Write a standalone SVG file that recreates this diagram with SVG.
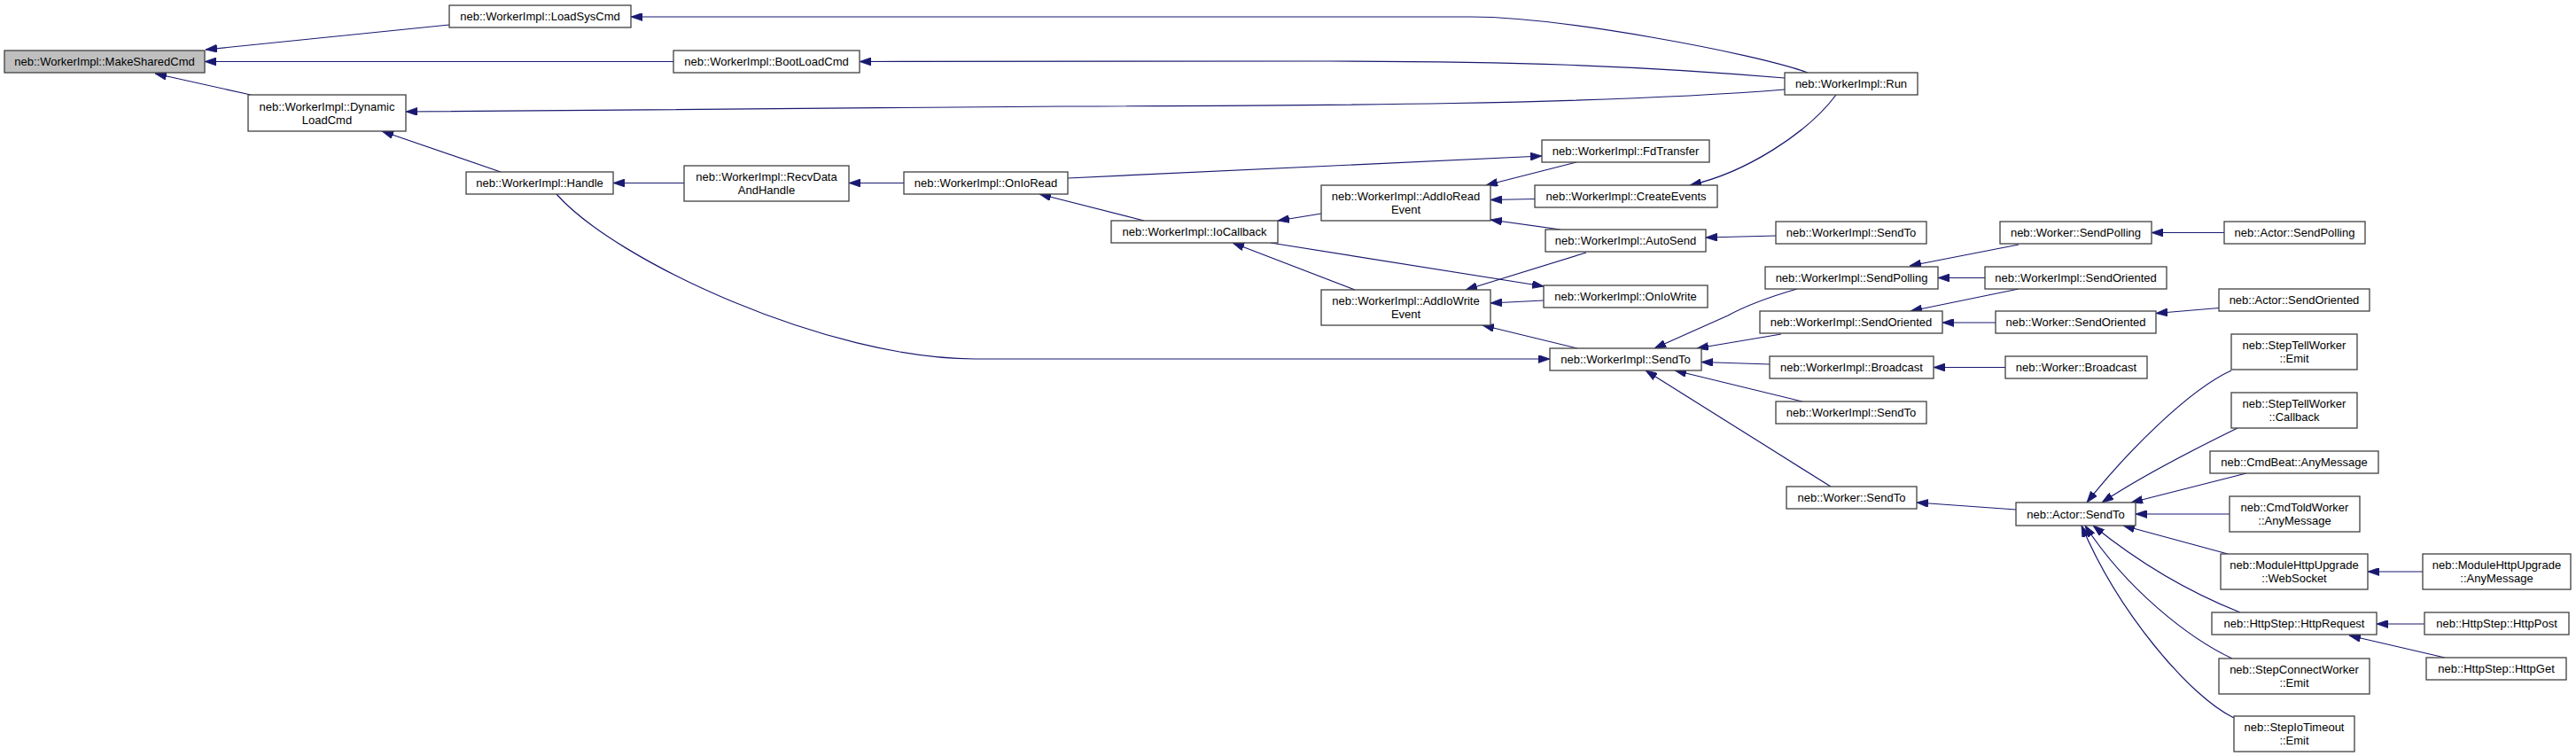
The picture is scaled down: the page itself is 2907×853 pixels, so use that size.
<svg xmlns="http://www.w3.org/2000/svg" width="2907" height="853" viewBox="0 0 2907 853">
<style>
.n rect{fill:#fff;stroke:#404040;stroke-width:1.3}
.n.g rect{fill:#bfbfbf}
.n text{font-family:"Liberation Sans",Arial,sans-serif;font-size:13px;fill:#000;text-anchor:middle}
.e path{fill:none;stroke:#191970;stroke-width:1.2;marker-end:url(#a)}
</style>
<defs>
<marker id="a" viewBox="0 0 13 9" refX="13" refY="4.5" markerWidth="13" markerHeight="9" markerUnits="userSpaceOnUse" orient="auto">
<path d="M0,0 L13,4.5 L0,9 z" fill="#191970" stroke="#191970" stroke-width="0.8"/>
</marker>
</defs>
<rect width="2907" height="853" fill="#fff"/>
<g id="edges" class="e">
<path d="M507,28 L232,56"/>
<path d="M760,69.5 L231,69.5"/>
<path d="M283,107 L175,83"/>
<path d="M2040,82 C1980,60 1760,19 1660,19 L712,19"/>
<path d="M2014,88 C1850,74 1700,69 1500,69 L970,69.5"/>
<path d="M2014,101 C1800,118 1500,119 1200,120 L458,126"/>
<path d="M565,194 L431,148"/>
<path d="M772,206.5 L692,206.5"/>
<path d="M1020,206.5 L958,206.5"/>
<path d="M628,219 C695,295 935,405 1100,405 L1749,405"/>
<path d="M1205,201 L1740,176"/>
<path d="M1779,183 L1677,209"/>
<path d="M1732,224.5 L1682,225.5"/>
<path d="M2072,107 C2040,150 1970,195 1907,209"/>
<path d="M1291,249 L1173,219"/>
<path d="M1491,241 L1442,249"/>
<path d="M1761,259 L1682,248"/>
<path d="M2004,266 L1925,268"/>
<path d="M1434,274 L1742,323"/>
<path d="M1529,327 L1391,274"/>
<path d="M1790,285 L1654,327"/>
<path d="M1742,339 L1682,342"/>
<path d="M1780,393 L1673,367"/>
<path d="M2028,326 C1990,337 1970,345 1950,356 L1867,393"/>
<path d="M2010,377 L1915,393"/>
<path d="M1997,411 L1920,408.5"/>
<path d="M2034,453 L1890,418"/>
<path d="M2066,549 L1857,418"/>
<path d="M2278,276 L2155,300"/>
<path d="M2240,313.5 L2187,313.5"/>
<path d="M2510,262.5 L2428,262.5"/>
<path d="M2252,364 L2192,364"/>
<path d="M2278,326 L2156,351"/>
<path d="M2504,347.5 L2433,353.5"/>
<path d="M2263,414.5 L2182,414.5"/>
<path d="M2275,575 L2163,567"/>
<path d="M2518,418 C2470,440 2400,510 2355,567"/>
<path d="M2525,483 C2480,505 2420,535 2372,567"/>
<path d="M2535,534 L2405,567"/>
<path d="M2516,580 L2410,580"/>
<path d="M2514,625 L2396,593"/>
<path d="M2528,691 C2480,672 2420,640 2362,593"/>
<path d="M2519,743 C2470,720 2400,665 2353,593"/>
<path d="M2521,810 C2470,785 2390,690 2349,593"/>
<path d="M2734,645 L2672,645"/>
<path d="M2736,704 L2682,704"/>
<path d="M2759,742 L2651,717"/>
</g>
<g id="n1" class="n g"><rect x="5" y="57" width="226" height="25"/><text x="118" y="74">neb::WorkerImpl::MakeSharedCmd</text></g>
<g id="n2" class="n"><rect x="507" y="6" width="205" height="25"/><text x="609.5" y="23">neb::WorkerImpl::LoadSysCmd</text></g>
<g id="n3" class="n"><rect x="760" y="57" width="210" height="25"/><text x="865" y="74">neb::WorkerImpl::BootLoadCmd</text></g>
<g id="n4" class="n"><rect x="280" y="107" width="178" height="41"/><text x="369" y="125">neb::WorkerImpl::Dynamic</text><text x="369" y="140">LoadCmd</text></g>
<g id="n5" class="n"><rect x="526" y="194" width="166" height="25"/><text x="609" y="211">neb::WorkerImpl::Handle</text></g>
<g id="n6" class="n"><rect x="772" y="187" width="186" height="40"/><text x="865" y="204">neb::WorkerImpl::RecvData</text><text x="865" y="219">AndHandle</text></g>
<g id="n7" class="n"><rect x="1020" y="194" width="185" height="25"/><text x="1112.5" y="211">neb::WorkerImpl::OnIoRead</text></g>
<g id="n8" class="n"><rect x="2014" y="82" width="150" height="25"/><text x="2089" y="99">neb::WorkerImpl::Run</text></g>
<g id="n9" class="n"><rect x="1740" y="158" width="189" height="25"/><text x="1834.5" y="175">neb::WorkerImpl::FdTransfer</text></g>
<g id="n10" class="n"><rect x="1491" y="209" width="191" height="40"/><text x="1586.5" y="226">neb::WorkerImpl::AddIoRead</text><text x="1586.5" y="241">Event</text></g>
<g id="n11" class="n"><rect x="1732" y="209" width="206" height="25"/><text x="1835" y="226">neb::WorkerImpl::CreateEvents</text></g>
<g id="n12" class="n"><rect x="1254" y="249" width="188" height="25"/><text x="1348" y="266">neb::WorkerImpl::IoCallback</text></g>
<g id="n13" class="n"><rect x="1744" y="259" width="181" height="25"/><text x="1834.5" y="276">neb::WorkerImpl::AutoSend</text></g>
<g id="n14" class="n"><rect x="2004" y="250" width="170" height="25"/><text x="2089" y="267">neb::WorkerImpl::SendTo</text></g>
<g id="n15" class="n"><rect x="2257" y="250" width="171" height="25"/><text x="2342.5" y="267">neb::Worker::SendPolling</text></g>
<g id="n16" class="n"><rect x="2510" y="250" width="159" height="25"/><text x="2589.5" y="267">neb::Actor::SendPolling</text></g>
<g id="n17" class="n"><rect x="1992" y="301" width="195" height="25"/><text x="2089.5" y="318">neb::WorkerImpl::SendPolling</text></g>
<g id="n18" class="n"><rect x="2240" y="301" width="205" height="25"/><text x="2342.5" y="318">neb::WorkerImpl::SendOriented</text></g>
<g id="n19" class="n"><rect x="1742" y="322" width="185" height="25"/><text x="1834.5" y="339">neb::WorkerImpl::OnIoWrite</text></g>
<g id="n20" class="n"><rect x="1491" y="327" width="191" height="40"/><text x="1586.5" y="344">neb::WorkerImpl::AddIoWrite</text><text x="1586.5" y="359">Event</text></g>
<g id="n21" class="n"><rect x="2504" y="326" width="170" height="25"/><text x="2589" y="343">neb::Actor::SendOriented</text></g>
<g id="n22" class="n"><rect x="1986" y="351" width="206" height="25"/><text x="2089" y="368">neb::WorkerImpl::SendOriented</text></g>
<g id="n23" class="n"><rect x="2252" y="351" width="181" height="25"/><text x="2342.5" y="368">neb::Worker::SendOriented</text></g>
<g id="n24" class="n"><rect x="2518" y="377" width="142" height="40"/><text x="2589" y="394">neb::StepTellWorker</text><text x="2589" y="409">::Emit</text></g>
<g id="n25" class="n"><rect x="1749" y="393" width="171" height="25"/><text x="1834.5" y="410">neb::WorkerImpl::SendTo</text></g>
<g id="n26" class="n"><rect x="1997" y="402" width="185" height="25"/><text x="2089.5" y="419">neb::WorkerImpl::Broadcast</text></g>
<g id="n27" class="n"><rect x="2263" y="402" width="160" height="25"/><text x="2343" y="419">neb::Worker::Broadcast</text></g>
<g id="n28" class="n"><rect x="2518" y="443" width="142" height="40"/><text x="2589" y="460">neb::StepTellWorker</text><text x="2589" y="475">::Callback</text></g>
<g id="n29" class="n"><rect x="2004" y="453" width="170" height="25"/><text x="2089" y="470">neb::WorkerImpl::SendTo</text></g>
<g id="n30" class="n"><rect x="2494" y="509" width="190" height="25"/><text x="2589" y="526">neb::CmdBeat::AnyMessage</text></g>
<g id="n31" class="n"><rect x="2016" y="549" width="147" height="25"/><text x="2089.5" y="566">neb::Worker::SendTo</text></g>
<g id="n32" class="n"><rect x="2516" y="560" width="147" height="40"/><text x="2589.5" y="577">neb::CmdToldWorker</text><text x="2589.5" y="592">::AnyMessage</text></g>
<g id="n33" class="n"><rect x="2275" y="567" width="135" height="26"/><text x="2342.5" y="585">neb::Actor::SendTo</text></g>
<g id="n34" class="n"><rect x="2506" y="625" width="166" height="40"/><text x="2589" y="642">neb::ModuleHttpUpgrade</text><text x="2589" y="657">::WebSocket</text></g>
<g id="n35" class="n"><rect x="2734" y="625" width="167" height="40"/><text x="2817.5" y="642">neb::ModuleHttpUpgrade</text><text x="2817.5" y="657">::AnyMessage</text></g>
<g id="n36" class="n"><rect x="2496" y="691" width="186" height="25"/><text x="2589" y="708">neb::HttpStep::HttpRequest</text></g>
<g id="n37" class="n"><rect x="2736" y="691" width="163" height="25"/><text x="2817.5" y="708">neb::HttpStep::HttpPost</text></g>
<g id="n38" class="n"><rect x="2738" y="742" width="158" height="25"/><text x="2817" y="759">neb::HttpStep::HttpGet</text></g>
<g id="n39" class="n"><rect x="2504" y="743" width="170" height="40"/><text x="2589" y="760">neb::StepConnectWorker</text><text x="2589" y="775">::Emit</text></g>
<g id="n40" class="n"><rect x="2521" y="808" width="136" height="40"/><text x="2589" y="825">neb::StepIoTimeout</text><text x="2589" y="840">::Emit</text></g>
</svg>
